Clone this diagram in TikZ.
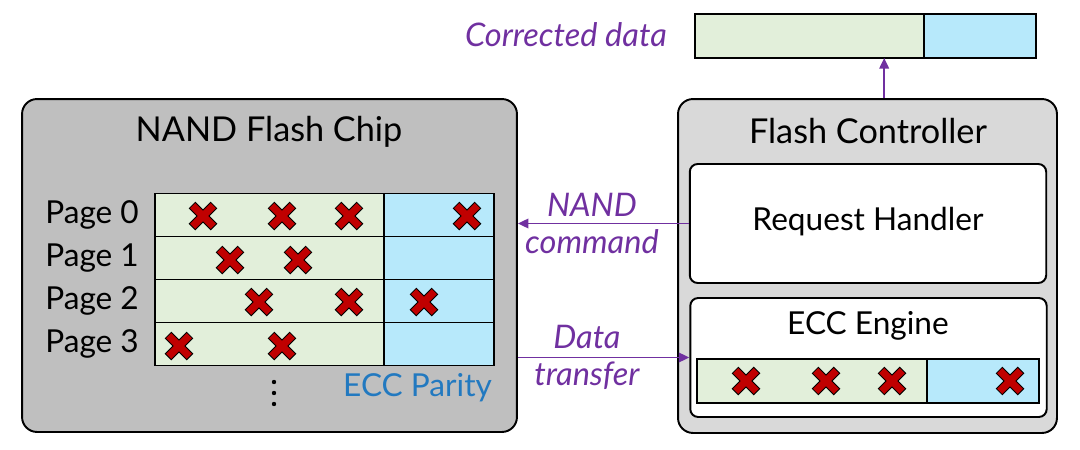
\documentclass[tikz,border=0pt]{standalone}
\usepackage{fontspec}
\setmainfont{Lato}
\usetikzlibrary{arrows.meta,positioning}
\definecolor{FcPurple}{HTML}{7030A0}
\definecolor{FcRed}{HTML}{C00000}
\definecolor{FcBlue}{HTML}{2279C0}
\definecolor{FcGreen}{HTML}{E2EFDA}
\definecolor{FcCyan}{HTML}{B7E9FB}
\definecolor{FcChip}{HTML}{BFBFBF}
\definecolor{FcCtrl}{HTML}{D9D9D9}

\begin{document}
\begin{tikzpicture}[x=0.02cm,y=-0.02cm,
    chipbox/.style={draw=black,line width=1.1pt,rounded corners=8.5pt,fill=FcChip,minimum width=9.9cm,minimum height=6.66cm},
    ctrlbox/.style={draw=black,line width=1.1pt,rounded corners=8.5pt,fill=FcCtrl,minimum width=7.58cm,minimum height=6.68cm},
    unitbox/.style={draw=black,line width=1.1pt,rounded corners=4.5pt,fill=white,minimum width=7.13cm,minimum height=2.38cm},
    datacell/.style={draw=black,line width=1.1pt,fill=FcGreen,inner sep=0pt,outer sep=0pt,minimum width=4.58cm,minimum height=0.86cm},
    paritycell/.style={draw=black,line width=1.1pt,fill=FcCyan,inner sep=0pt,outer sep=0pt,minimum width=2.2cm,minimum height=0.86cm},
    title/.style={font=\fontsize{19.5}{23}\selectfont},
    lbl/.style={font=\fontsize{18}{21}\selectfont},
    note/.style={font=\fontsize{18.5}{21}\selectfont\itshape,text=FcPurple,align=center},
    arr/.style={-{Triangle[length=6pt,width=5.5pt]},line width=0.9pt,FcPurple},
    xmark/.pic={
      \draw[black,line width=5.3pt] (-11,-11) -- (11,11) (-11,11) -- (11,-11);
      \draw[FcRed,line width=4.1pt] (-10.3,-10.3) -- (10.3,10.3) (-10.3,10.3) -- (10.3,-10.3);
    }
  ]
    \useasboundingbox (0,0) rectangle (1080,450);

    % NAND chip with its pages
    \node[chipbox] (chip) at (269.5,265.5) {};
    \node[title] (chiptitle) at (269,132) {NAND Flash Chip};
    \node[datacell] (d0) at (269.5,215) {};
    \node[datacell,below=0pt of d0] (d1) {};
    \node[datacell,below=0pt of d1] (d2) {};
    \node[datacell,below=0pt of d2] (d3) {};
    \node[paritycell,right=0pt of d0] (p0) {};
    \node[paritycell,right=0pt of d1] (p1) {};
    \node[paritycell,right=0pt of d2] (p2) {};
    \node[paritycell,right=0pt of d3] (p3) {};
    \node[lbl,left=0.2cm of d0] (pg0) {Page 0};
    \node[lbl,left=0.2cm of d1] (pg1) {Page 1};
    \node[lbl,left=0.2cm of d2] (pg2) {Page 2};
    \node[lbl,left=0.2cm of d3] (pg3) {Page 3};
    \node[lbl,text=FcBlue,anchor=north east,inner sep=1pt] (parity) at ([yshift=-3.5pt]p3.south east) {ECC Parity};
    \fill (274,382) circle (2.2) (274,393) circle (2.2) (274,404) circle (2.2);

    \pic at (203,216) {xmark}; \pic at (282,216) {xmark}; \pic at (349,216) {xmark}; \pic at (467,216) {xmark};
    \pic at (230,260) {xmark}; \pic at (298,260) {xmark};
    \pic at (259,302) {xmark}; \pic at (349,302) {xmark}; \pic at (424,302) {xmark};
    \pic at (179,346) {xmark}; \pic at (282,346) {xmark};

    % flash controller
    \node[ctrlbox] (ctrl) at (867.5,266) {};
    \node[title] (ctrltitle) at (868,131) {Flash Controller};
    \node[unitbox] (rh) at (868,223.5) {};
    \node[lbl] (rhtext) at (868,222) {Request Handler};
    \node[unitbox] (ecc) at (868.5,357.5) {};
    \node[lbl] (ecctext) at (868,326) {ECC Engine};
    \node[datacell,minimum width=4.6cm,minimum height=0.88cm] (ed) at (812,381) {};
    \node[paritycell,minimum width=2.24cm,minimum height=0.88cm,right=0pt of ed] (ep) {};
    \pic at (746,381) {xmark}; \pic at (826,381) {xmark}; \pic at (892,381) {xmark}; \pic at (1010,381) {xmark};

    % corrected output
    \node[datacell,minimum height=0.88cm] (od) at (809.5,36) {};
    \node[paritycell,minimum width=2.24cm,minimum height=0.88cm,right=0pt of od] (op) {};
    \node[note,anchor=east] (corr) at (673,35) {Corrected data};

    \draw[arr] (rh.west) -- (rh.west -| chip.east) node[note,midway,xshift=-6.5] (cmd) {NAND\\command};
    \draw[arr] (ecc.west -| chip.east) -- (ecc.west) node[note,midway,xshift=-9.5] (xfer) {Data\\transfer};
    \draw[arr] ([xshift=9.5]ctrl.north) -- ([xshift=9.5]ctrl.north |- od.south);
  \end{tikzpicture}
\end{document}
